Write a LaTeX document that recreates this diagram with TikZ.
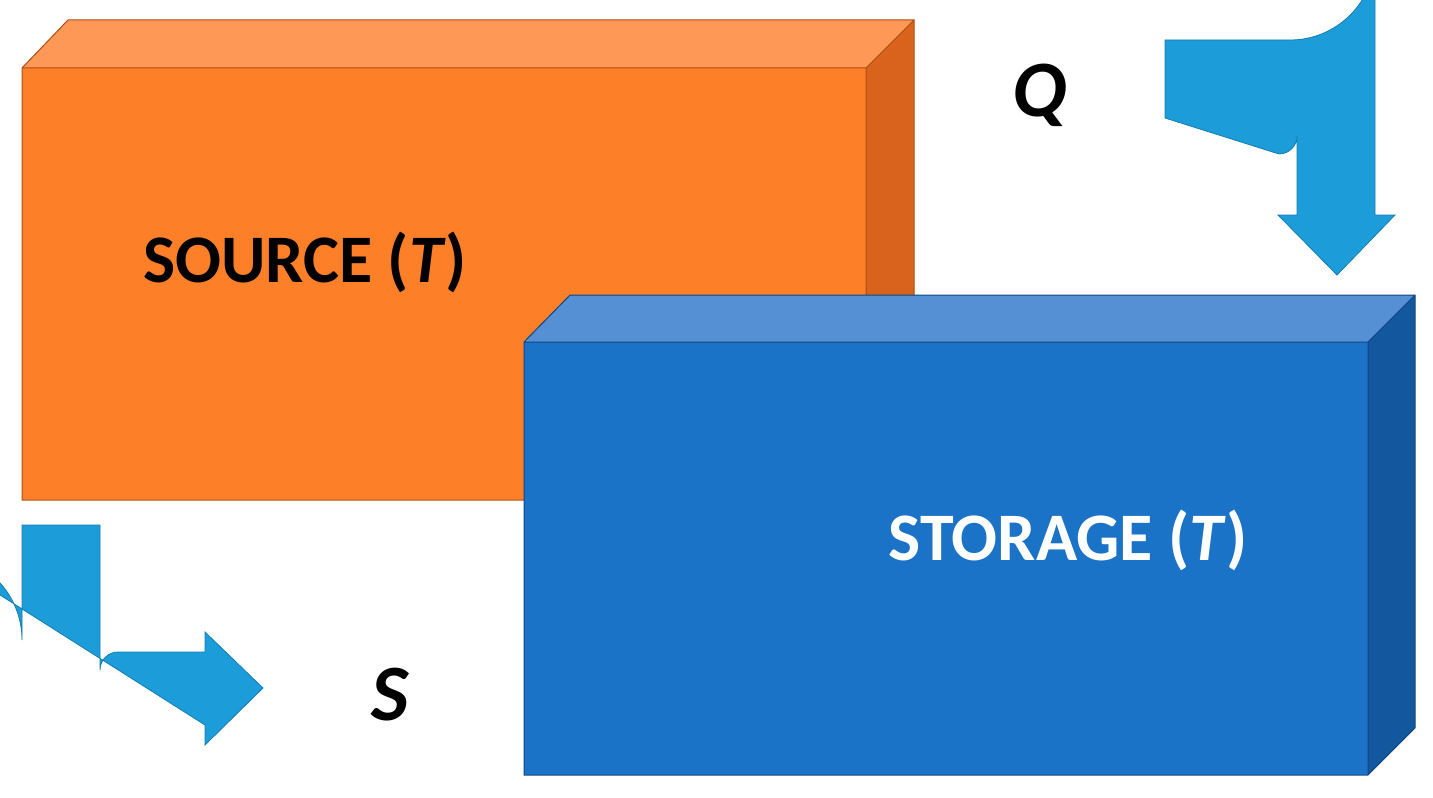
\documentclass[tikz,border=0pt]{standalone}
\usepackage{fontspec}
\setmainfont{Carlito}
\begin{document}
\begin{tikzpicture}[x=0.5pt,y=-0.5pt,
  lbl/.style={font=\fontsize{34}{40}\selectfont\bfseries},
  arr/.style={fill=arrowc, draw=arrowc!80!black, line width=0.4pt}]
\definecolor{ofront}{HTML}{FD7F27}
\definecolor{otop}{HTML}{FD9857}
\definecolor{oside}{HTML}{D9621C}
\definecolor{bfront}{HTML}{1B73C8}
\definecolor{btop}{HTML}{5590D5}
\definecolor{bside}{HTML}{13589F}
\definecolor{arrowc}{HTML}{1C9DD9}
\useasboundingbox (0,0) rectangle (1433,797);
% orange box
\fill[oside] (866,68) -- (914,20) -- (914,452) -- (866,500) -- cycle;
\fill[otop] (22,68) -- (68,20) -- (914,20) -- (866,68) -- cycle;
\fill[ofront] (22,68) rectangle (866,500);
\draw[oside!80!black, line width=0.5pt] (22,68) -- (68,20) -- (914,20) -- (914,452) -- (866,500) -- (22,500) -- cycle (22,68) -- (866,68) -- (866,500) (866,68) -- (914,20);
\node[lbl, text=black] (src) at (305,262) {SOURCE (\textit{T})};
% blue box
\fill[bside] (1368,342) -- (1415,295) -- (1415,728) -- (1368,775) -- cycle;
\fill[btop] (524,342) -- (570,295) -- (1415,295) -- (1368,342) -- cycle;
\fill[bfront] (524,342) rectangle (1368,775);
\draw[bside!80!black, line width=0.5pt] (524,342) -- (570,295) -- (1415,295) -- (1415,728) -- (1368,775) -- (524,775) -- cycle (524,342) -- (1368,342) -- (1368,775) (1368,342) -- (1415,295);
\node[lbl, text=white] (sto) at (1068,540) {STORAGE (\textit{T})};
% Q arrow
\path[arr] (1165,40) -- (1290,40) arc[start angle=90,end angle=0,radius=85] -- (1375,215) -- (1395,215) -- (1337,275) -- (1278,215) -- (1297,215) -- (1297,136) arc[start angle=0,end angle=90,radius=18] -- (1165,118) -- cycle;
\node[font=\fontsize{40}{46}\selectfont\bfseries\itshape] (q) at (1040,95) {Q};
% S arrow
\path[arr] (22,525) -- (22,640) arc[start angle=180,end angle=90,radius=-85] -- (205,725) -- (205,745) -- (263,688) -- (205,632) -- (205,652) -- (118,652) arc[start angle=270,end angle=180,radius=18] -- (100,525) -- cycle;
\node[font=\fontsize{40}{46}\selectfont\bfseries\itshape] (s) at (390,695) {S};
\end{tikzpicture}
\end{document}
